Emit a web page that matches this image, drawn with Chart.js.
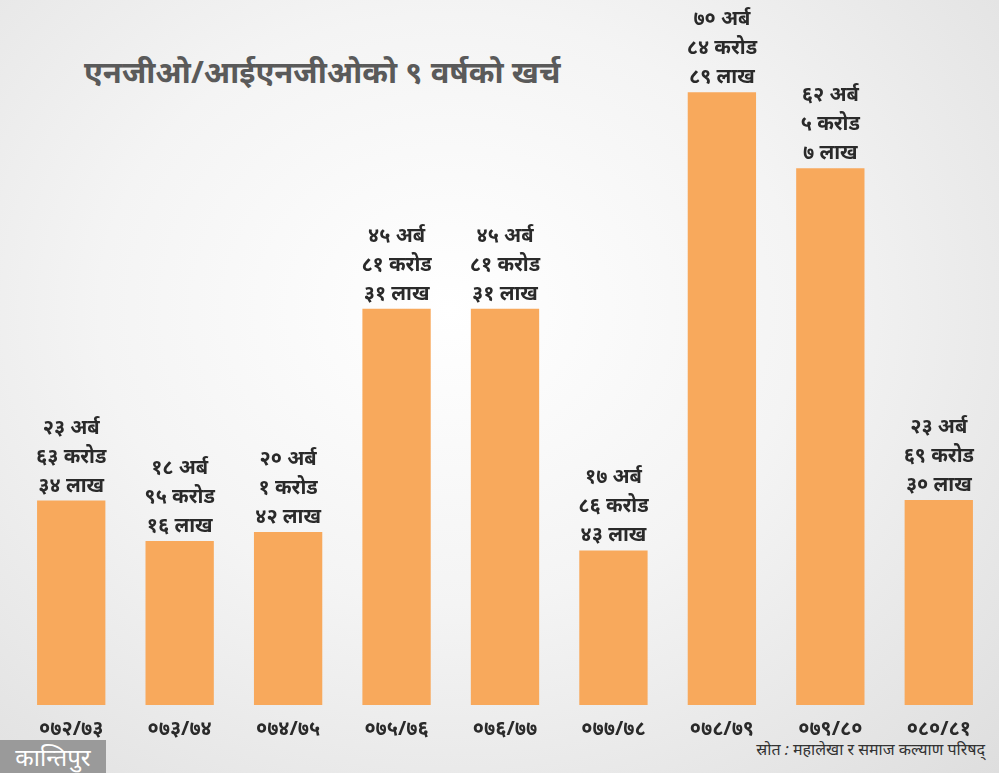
<!DOCTYPE html>
<html><head><meta charset="utf-8">
<script src="https://cdn.jsdelivr.net/npm/chart.js@4"></script>
<style>
html,body{margin:0;padding:0;}
body{width:999px;height:773px;background:radial-gradient(ellipse at 45% 40%, #ffffff 0%, #f4f4f4 45%, #dedede 100%);position:relative;overflow:hidden;font-family:"Noto Sans","Lohit Devanagari",sans-serif;}
#title{position:absolute;left:84px;top:50px;font-size:31px;font-weight:bold;color:#5a5a5a;}
#src{position:absolute;right:14px;top:738px;font-size:16px;font-style:italic;color:#333;}
#logo{position:absolute;left:0;top:740px;width:106px;height:33px;background:#9a9a9a;color:#fff;font-size:24px;text-align:center;line-height:33px;}
</style></head>
<body>
<div id="title">एनजीओ/आईएनजीओको ९ वर्षको खर्च</div>
<div id="logo">कान्तिपुर</div>
<div id="src">स्रोत : महालेखा र समाज कल्याण परिषद्</div>
<canvas id="c" width="999" height="773" style="position:absolute;left:0;top:0"></canvas>
<script>
const years = ["०७२/७३","०७३/७४","०७४/७५","०७५/७६","०७६/७७","०७७/७८","०७८/७९","०७९/८०","०८०/८१"];
const spending = [23.6334, 18.9516, 20.0142, 45.8131, 45.8131, 17.8643, 70.8489, 62.0507, 23.6930]; // अर्ब
const arbaLabels = ["२३ अर्ब","१८ अर्ब","२० अर्ब","४५ अर्ब","४५ अर्ब","१७ अर्ब","७० अर्ब","६२ अर्ब","२३ अर्ब"];
const croreLabels = ["६३ करोड","९५ करोड","१ करोड","८१ करोड","८१ करोड","८६ करोड","८४ करोड","५ करोड","६९ करोड"];
const lakhLabels = ["३४ लाख","१६ लाख","४२ लाख","३१ लाख","३१ लाख","४३ लाख","८९ लाख","७ लाख","३० लाख"];

const labelPlugin = {
  id: "labels",
  afterDatasetsDraw(chart) {
    const ctx = chart.ctx;
    const meta = chart.getDatasetMeta(0);
    ctx.save();
    ctx.textAlign = "center";
    ctx.fillStyle = "#2a2a2a";
    meta.data.forEach((bar, i) => {
      ctx.font = "bold 20px 'Noto Sans', sans-serif";
      const lines = [arbaLabels[i], croreLabels[i], lakhLabels[i]];
      lines.forEach((t, j) => ctx.fillText(t, bar.x, bar.y - 9 - (2 - j) * 29));
      ctx.font = "bold 20px 'Noto Sans', sans-serif";
      ctx.fillText(years[i], bar.x, chart.chartArea.bottom + 30);
    });
    ctx.restore();
  }
};

new Chart(document.getElementById("c"), {
  type: "bar",
  data: { labels: years, datasets: [{ data: spending, backgroundColor: "#f8a95c", categoryPercentage: 1, barPercentage: 0.63 }] },
  options: {
    responsive: false, animation: false,
    layout: { padding: { left: 17, right: 6, top: 13, bottom: 68 } },
    plugins: { legend: { display: false }, tooltip: { enabled: false } },
    scales: {
      x: { display: false },
      y: { display: false, min: 0, max: 80 }
    }
  },
  plugins: [labelPlugin]
});
</script>
</body></html>
